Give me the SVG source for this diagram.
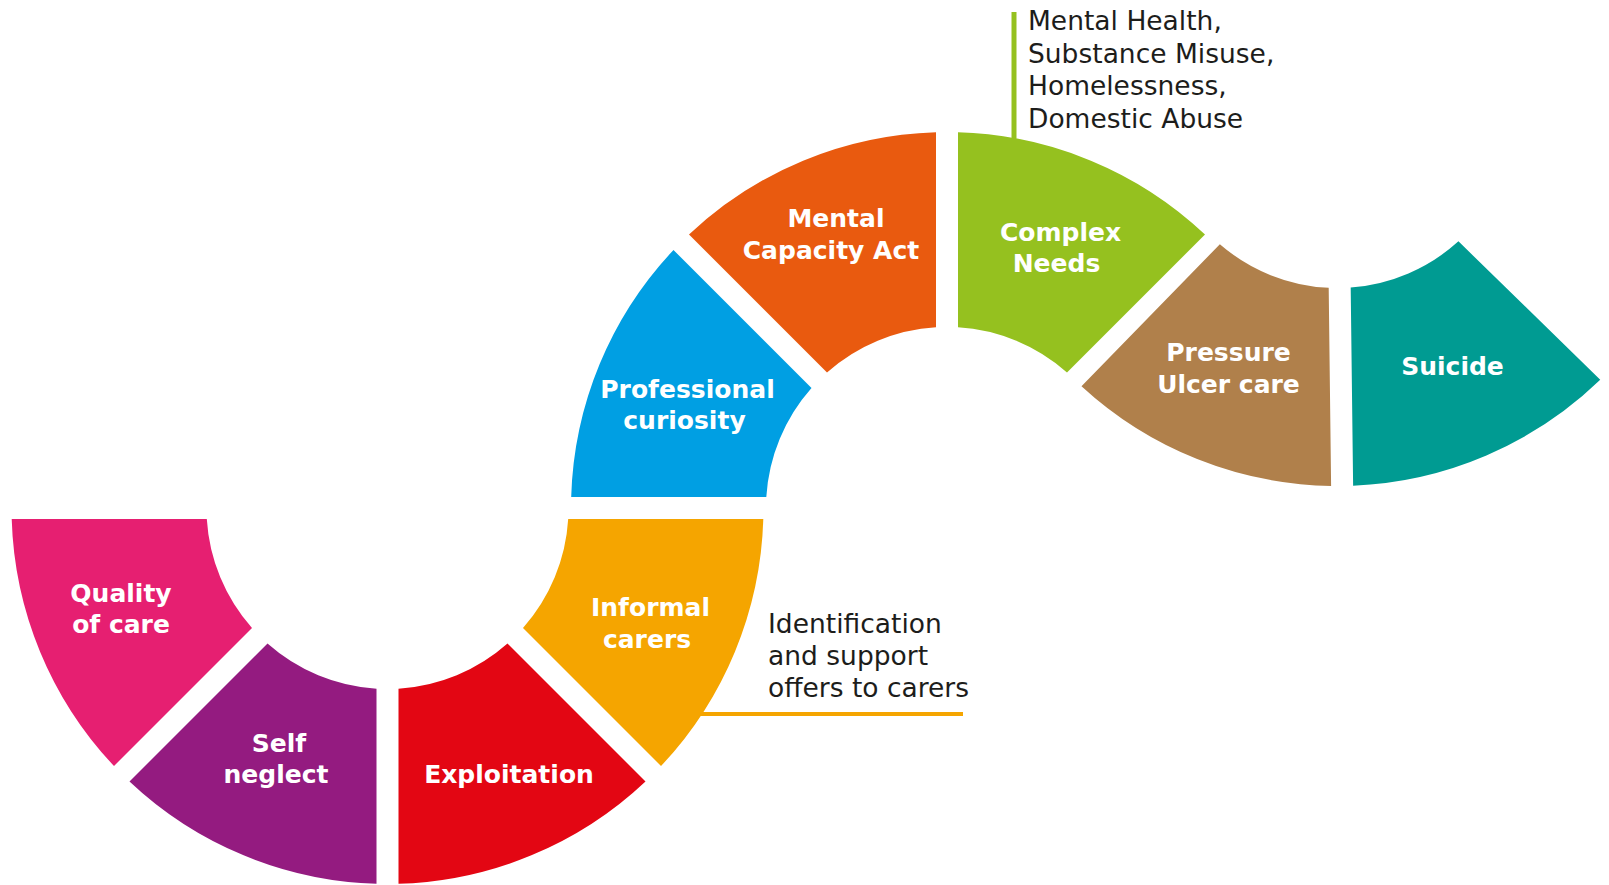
<svg xmlns="http://www.w3.org/2000/svg" width="1609" height="885" viewBox="0 0 1609 885">
<style>
.lbl{font-family:"DejaVu Sans","Liberation Sans",sans-serif;font-weight:bold;font-size:25px;fill:#ffffff;text-anchor:middle}
.note{font-family:"DejaVu Sans","Liberation Sans",sans-serif;font-size:26.5px;fill:#1d1d1b}
</style>
<rect width="1609" height="885" fill="#ffffff"/>
<g id="connectors">
<line x1="1014" y1="12" x2="1014" y2="150" stroke="#95c11f" stroke-width="5"/>
<line x1="690" y1="714" x2="963" y2="714" stroke="#f5a500" stroke-width="4"/>
</g>
<g id="quality">
<path d="M 114.0 766.0 A 376 376 0 0 1 11.7 519 L 206.8 519 A 181 181 0 0 0 252.0 628.0 Z" fill="#e61f71"/>
<text class="lbl" x="121" y="601.5">Quality</text>
<text class="lbl" x="121" y="633">of care</text>
</g>
<g id="selfneglect">
<path d="M 376.5 883.8 A 376 376 0 0 1 129.5 781.5 L 267.5 643.5 A 181 181 0 0 0 376.5 688.7 Z" fill="#941b80"/>
<text class="lbl" x="279" y="752">Self</text>
<text class="lbl" x="276" y="783">neglect</text>
</g>
<g id="exploitation">
<path d="M 645.5 781.5 A 376 376 0 0 1 398.5 883.8 L 398.5 688.7 A 181 181 0 0 0 507.5 643.5 Z" fill="#e30613"/>
<text class="lbl" x="509" y="783">Exploitation</text>
</g>
<g id="informal">
<path d="M 763.3 519 A 376 376 0 0 1 661.0 766.0 L 523.0 628.0 A 181 181 0 0 0 568.2 519 Z" fill="#f5a500"/>
<text class="lbl" x="650.5" y="616">Informal</text>
<text class="lbl" x="647" y="647.5">carers</text>
</g>
<g id="professional">
<path d="M 571.2 497 A 376 376 0 0 1 673.5 250.0 L 811.5 388.0 A 181 181 0 0 0 766.3 497 Z" fill="#009fe3"/>
<text class="lbl" x="687.5" y="398">Professional</text>
<text class="lbl" x="684.5" y="429">curiosity</text>
</g>
<g id="mca">
<path d="M 689.0 234.5 A 376 376 0 0 1 936 132.2 L 936 327.3 A 181 181 0 0 0 827.0 372.5 Z" fill="#e95a0f"/>
<text class="lbl" x="836" y="227">Mental</text>
<text class="lbl" x="831" y="258.5">Capacity Act</text>
</g>
<g id="complex">
<path d="M 958 132.2 A 376 376 0 0 1 1205.0 234.5 L 1067.0 372.5 A 181 181 0 0 0 958 327.3 Z" fill="#95c11f"/>
<text class="lbl" x="1060.5" y="241">Complex</text>
<text class="lbl" x="1056.5" y="272">Needs</text>
</g>
<g id="pressure">
<path d="M 1326.5 485.8 A 378 378 0 0 1 1078.1 383.0 L 1218.2 242.8 A 180 180 0 0 0 1326.5 287.7 Z" fill="#b0804b" transform="rotate(-0.7 1337.5 108)"/>
<text class="lbl" x="1228.5" y="361">Pressure</text>
<text class="lbl" x="1228.5" y="393">Ulcer care</text>
</g>
<g id="suicide">
<path d="M 1596.9 383.0 A 378 378 0 0 1 1348.5 485.8 L 1348.5 287.7 A 180 180 0 0 0 1456.8 242.8 Z" fill="#009b92" transform="rotate(-0.7 1337.5 108)"/>
<text class="lbl" x="1452.5" y="374.5">Suicide</text>
</g>
<g id="note-complex">
<text class="note" x="1028" y="30">Mental Health,</text>
<text class="note" x="1028" y="62.5">Substance Misuse,</text>
<text class="note" x="1028" y="95">Homelessness,</text>
<text class="note" x="1028" y="127.5">Domestic Abuse</text>
</g>
<g id="note-carers">
<text class="note" x="768" y="633">Identification</text>
<text class="note" x="768" y="665">and support</text>
<text class="note" x="768" y="697">offers to carers</text>
</g>
</svg>
